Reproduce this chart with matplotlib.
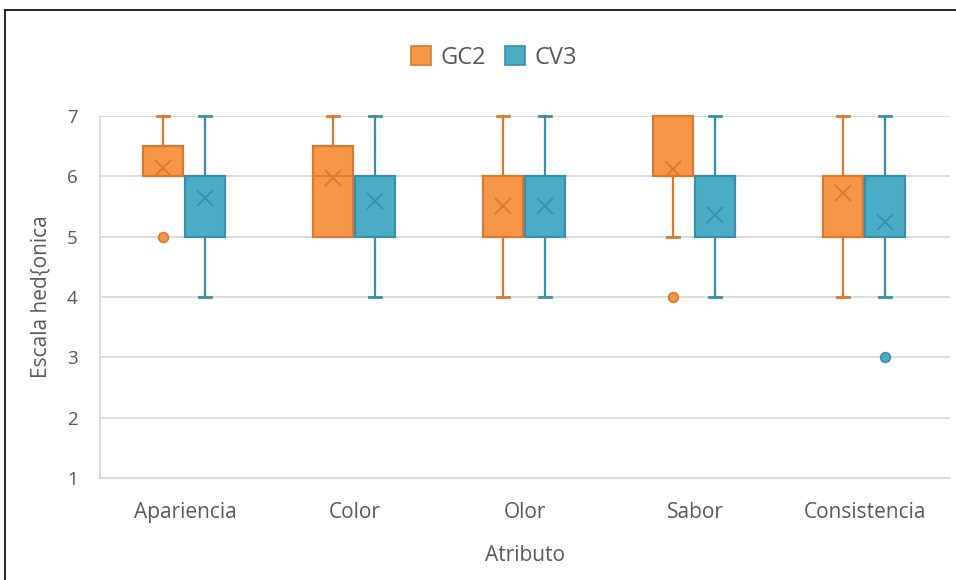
import matplotlib
matplotlib.use("Agg")
import matplotlib.pyplot as plt
from matplotlib.lines import Line2D
from matplotlib.patches import Patch

categories = ["Apariencia", "Color", "Olor", "Sabor", "Consistencia"]
series = ["GC2", "CV3"]

# GC2 stats
gc2_q1 = [6, 5, 5, 6, 5]
gc2_med = [6, 6, 5, 6, 5]
gc2_q3 = [6.5, 6.5, 6, 7, 6]
gc2_lo = [6, 5, 4, 5, 4]
gc2_hi = [7, 7, 7, 7, 7]
gc2_mean = [6.14, 5.97, 5.51, 6.12, 5.72]
gc2_fliers = [[5], [], [], [4], []]

# CV3 stats
cv3_q1 = [5, 5, 5, 5, 5]
cv3_med = [6, 6, 5, 5, 5]
cv3_q3 = [6, 6, 6, 6, 6]
cv3_lo = [4, 4, 4, 4, 4]
cv3_hi = [7, 7, 7, 7, 7]
cv3_mean = [5.64, 5.59, 5.51, 5.36, 5.24]
cv3_fliers = [[], [], [], [], [3]]

fills = ["#F79646", "#4BACC6"]
edges = ["#D9782E", "#3890A8"]

plt.rcParams['font.family'] = ['Open Sans', 'DejaVu Sans']
fig = plt.figure(figsize=(9.56, 5.8), dpi=100)
ax = fig.add_axes([100/956, (580-478)/580, 850/956, (478-116)/580])

def stats(q1, med, q3, lo, hi, mean, fl):
    out = []
    for i in range(len(q1)):
        out.append(dict(q1=q1[i], med=med[i], q3=q3[i], whislo=lo[i], whishi=hi[i],
                        mean=mean[i], fliers=fl[i]))
    return out

allstats = [stats(gc2_q1, gc2_med, gc2_q3, gc2_lo, gc2_hi, gc2_mean, gc2_fliers),
            stats(cv3_q1, cv3_med, cv3_q3, cv3_lo, cv3_hi, cv3_mean, cv3_fliers)]
offsets = [-0.13, 0.12]
for s, st in enumerate(allstats):
    pos = [i + offsets[s] for i in range(len(categories))]
    res = ax.bxp(st, positions=pos, widths=0.235, patch_artist=True, showmeans=True,
                 showcaps=True, capwidths=0.07,
                 boxprops=dict(facecolor=fills[s], edgecolor=edges[s], linewidth=1.6),
                 medianprops=dict(color=edges[s], linewidth=1.2),
                 whiskerprops=dict(color=edges[s], linewidth=1.6),
                 capprops=dict(color=edges[s], linewidth=2.0),
                 meanprops=dict(marker='x', markeredgecolor=edges[s], markersize=12,
                                markeredgewidth=1.3, linestyle='none'),
                 flierprops=dict(marker='o', markerfacecolor=fills[s], markeredgecolor=edges[s],
                                 markersize=7, markeredgewidth=1.2),
                 manage_ticks=False, zorder=3)
    # hide caps of zero-length whiskers
    for i, d in enumerate(st):
        if d['whislo'] == d['q1']:
            res['caps'][2 * i].set_visible(False)
        if d['whishi'] == d['q3']:
            res['caps'][2 * i + 1].set_visible(False)

for art in ax.get_children():
    try:
        art.set_clip_on(False)
    except Exception:
        pass

ax.set_xlim(-0.5, len(categories) - 0.5)
ax.set_ylim(1, 7)
ax.set_yticks([1, 2, 3, 4, 5, 6, 7])
ax.set_xticks(range(len(categories)))
ax.set_xticklabels(categories)
ax.yaxis.grid(True, color="#D9D9D9", linewidth=1.3, zorder=0)
ax.set_axisbelow(True)
for sp in ["top", "right"]:
    ax.spines[sp].set_visible(False)
for sp in ["bottom", "left"]:
    ax.spines[sp].set_color("#D9D9D9")
    ax.spines[sp].set_linewidth(1.3)
ax.tick_params(axis='both', length=0, colors="#595959")
ax.tick_params(axis='x', pad=17, labelsize=15)
ax.tick_params(axis='y', pad=16, labelsize=13.5)
ax.set_ylabel("Escala hed{onica", fontsize=15, color="#595959", labelpad=11)
ax.set_xlabel("Atributo", fontsize=15, color="#595959", labelpad=16)

handles = [Patch(facecolor=fills[i], edgecolor=edges[i], linewidth=1.2, label=series[i]) for i in range(2)]
fig.legend(handles=handles, loc="center", bbox_to_anchor=(0.5 + 16/956, 1 - 58/580), ncol=2, frameon=False,
           fontsize=17, labelcolor="#595959", handlelength=0.85, handleheight=0.85,
           handletextpad=0.4, columnspacing=0.8)

fig.add_artist(Line2D([5/956, 5/956], [0, 1 - 10/580], color="black", linewidth=1.2))
fig.add_artist(Line2D([5/956, 1], [1 - 10/580, 1 - 10/580], color="black", linewidth=1.2))

fig.savefig("out.png", dpi=100)
